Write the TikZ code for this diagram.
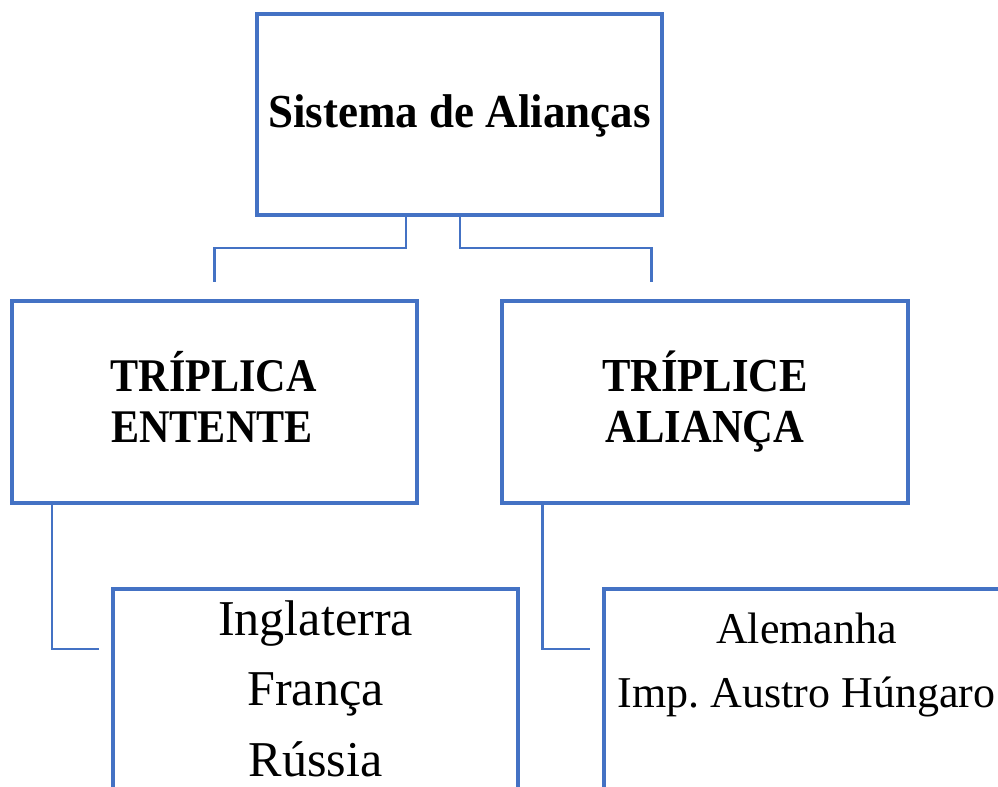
\documentclass[tikz,border=0pt]{standalone}
\usepackage{fontspec}
\setmainfont{Liberation Serif}
% slightly condensed faces for the bold headings
\newfontfamily\headfont[FakeStretch=0.95]{Liberation Serif}
\newfontfamily\groupfont[FakeStretch=0.9]{Liberation Serif}
\usetikzlibrary{calc}
\definecolor{boxblue}{HTML}{4472C4}
\tikzset{
  box/.style={draw=boxblue, line width=3pt, fill=white, inner sep=0pt, outer sep=0pt, rectangle},
  conn/.style={draw=boxblue, line width=1.9pt},
  lbl/.style={anchor=base, inner sep=0pt, text=black},
  head/.style={lbl, font=\headfont\bfseries\fontsize{35.5}{42}\selectfont},
  tleft/.style={lbl, font=\groupfont\bfseries\fontsize{35.1}{42}\selectfont},
  tright/.style={lbl, font=\groupfont\bfseries\fontsize{35.5}{42}\selectfont},
  cleft/.style={lbl, font=\fontsize{37.6}{45}\selectfont},
  cright/.style={lbl, font=\fontsize{33}{40}\selectfont},
}
\begin{document}
\begin{tikzpicture}[x=0.75pt, y=-0.75pt]
  \useasboundingbox (0,0) rectangle (998,787);
  \clip (0,0) rectangle (998,787);
  \fill[white] (0,0) rectangle (998,787);

  % boxes
  \node[box, minimum width=303.4pt, minimum height=150.75pt] (top) at (459.25,114.5) {};
  \node[box, minimum width=303.75pt, minimum height=151.5pt] (L) at (214.5,402) {};
  \node[box, minimum width=304.5pt, minimum height=151.5pt] (R) at (705,402) {};
  \node[box, minimum width=303.75pt, minimum height=233.25pt] (BL) at (315.5,744.5) {};
  \node[box, minimum width=304.5pt, minimum height=233.25pt] (BR) at (807,744.5) {};

  % connectors
  \draw[conn] ($(top.south)+(-53.25,0)$) -- ++(0,33) -| ($(L.north)+(0,-19)$);
  \draw[conn] ($(top.south)+(0.75,0)$) -- ++(0,33) -| ($(R.north)+(-53.5,-19)$);
  \draw[conn] ($(L.south)+(-162.5,0)$) |- ($(BL.north west)+(-14,60)$);
  \draw[conn] ($(R.south)+(-162.5,0)$) |- ($(BR.north west)+(-14,60)$);

  % texts
  \node[head] (th) at (459.5,128) {Sistema de Alianças};
  \node[tleft] (l1) at (213.5,392) {TRÍPLICA};
  \node[tleft] (l2) at (212,442) {ENTENTE};
  \node[tright] (r1) at (705,392) {TRÍPLICE};
  \node[tright] (r2) at (705,442) {ALIANÇA};
  \node[cleft] (c1) at (315.5,635) {Inglaterra};
  \node[cleft] (c2) at (315.5,705) {França};
  \node[cleft] (c3) at (315.5,776) {Rússia};
  \node[cright] (d1) at (806.5,643) {Alemanha};
  \node[cright] (d2) at (806.5,707) {Imp.\ Austro Húngaro};
\end{tikzpicture}
\end{document}
